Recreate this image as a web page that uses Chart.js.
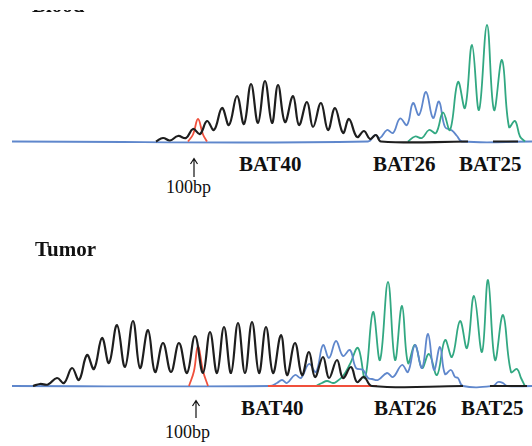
<!DOCTYPE html>
<html>
<head>
<meta charset="utf-8">
<script src="https://cdn.jsdelivr.net/npm/chart.js@4"></script>
<style>
  body { margin: 0; background: #fff; }
  #wrap { position: relative; width: 532px; height: 446px; overflow: hidden; background: #fff; }
  canvas { position: absolute; left: 0; }
  .lbl { position: absolute; font-family: "Liberation Serif", serif; font-weight: bold; font-size: 21px; line-height: 21px; color: #111; white-space: nowrap; }
  .bp { position: absolute; font-family: "Liberation Serif", serif; font-size: 18px; line-height: 18px; color: #111; white-space: nowrap; }
  #cut { left: 32px; top: -5px; clip-path: inset(15px 0 0 0); }
  svg { position: absolute; left: 0; top: 0; }
</style>
</head>
<body>
<div id="wrap">
  <canvas id="blood" width="532" height="150" style="top:0"></canvas>
  <canvas id="tumor" width="532" height="130" style="top:260px"></canvas>

  <div id="cut" class="lbl">Blood</div>
  <div class="lbl" style="left:239px;top:154px">BAT40</div>
  <div class="lbl" style="left:373px;top:154px">BAT26</div>
  <div class="lbl" style="left:459px;top:154px">BAT25</div>
  <div class="bp" style="left:166px;top:178px">100bp</div>

  <div class="lbl" style="left:35px;top:239px">Tumor</div>
  <div class="lbl" style="left:241px;top:398px">BAT40</div>
  <div class="lbl" style="left:374px;top:398px">BAT26</div>
  <div class="lbl" style="left:461px;top:398px">BAT25</div>
  <div class="bp" style="left:165px;top:423px">100bp</div>

  <svg width="532" height="446">
    <g stroke="#111" stroke-width="1.2" fill="none">
      <path d="M194 159 V177 M190.5 164 L194 158.5 L197.5 164"/>
      <path d="M196 401 V418 M192.5 406 L196 400.5 L199.5 406"/>
    </g>
  </svg>
</div>
<script>
// peak traces: [position, signal height]
// Blood panel
const bloodBlack = [
  [156, 0], [163, 3.5], [170, 1], [178, 5.5], [186, 3.5], [193, 12.5], [200, 7.5],
  [207, 20.5], [214, 11.5], [222, 33.5], [229, 16.5], [237, 45.5], [244, 17.5],
  [251, 57.5], [258, 18.5], [265, 60.5], [272, 18.5], [278, 56.5], [285, 19.5],
  [293, 45.5], [299, 16.5], [307, 39.5], [313, 14.5], [321, 38.5], [328, 11.5],
  [335, 33.5], [343, 8.5], [349, 22.5], [357, 4.5], [364, 10.5], [370, 2.5],
  [376, 6.5], [381, 0], [468, 0], [480, null], [493, 0], [518, 0]
];
const bloodRed = [[188, 0], [193, 7], [198, 22.5], [203, 7], [207, 0]];
const bloodBlue = [
  [12, 0], [368, 0], [375, 6.5], [380, 3.5], [387, 11.5], [393, 8.5], [400, 23],
  [407, 16.5], [413, 38.5], [419, 26.5], [426, 49.5], [433, 23.5], [439, 40],
  [445, 14.5], [452, 11], [457, 5.5], [462, 0], [532, 0]
];
const bloodGreen = [
  [408, 0], [415, 5], [422, 3.5], [429, 11.5], [436, 8.5], [443, 29], [450, 11.5],
  [458, 59.5], [465, 33.5], [472, 96.5], [479, 31.5], [487, 116.5], [494, 31.5],
  [502, 81.5], [509, 14.5], [515, 20.5], [520, 5], [525, 0]
];

// Tumor panel
const tumorBlack = [
  [33, 0], [40, 2], [48, 1.5], [57, 8], [64, 3], [72, 18], [79, 6], [87, 31],
  [94, 17], [102, 48], [109, 23], [117, 61], [125, 19], [133, 65], [140, 18],
  [148, 56], [155, 14], [163, 43], [171, 14], [179, 43], [187, 13], [195, 50],
  [203, 13], [210, 54], [217, 13], [224, 59], [231, 13], [238, 63], [245, 13],
  [252, 64], [259, 13], [266, 59], [273, 13], [281, 51], [287, 11], [295, 43],
  [302, 11], [309, 34], [315, 9], [323, 29], [329, 8], [337, 26], [343, 8],
  [351, 19], [357, 4], [364, 9], [372, 0], [463, 0], [475, null], [490, 0], [527, 0]
];
const tumorRed = [
  [189, 0], [194, 15], [198, 40], [203, 15], [208, 0], [230, null], [268, 0], [377, 0]
];
const tumorBlue = [
  [12, 0], [270, 0], [277, 3], [282, 6], [287, 3], [295, 11], [301, 8], [309, 22],
  [316, 14], [323, 41], [329, 28], [336, 45], [343, 30], [350, 36], [356, 18],
  [363, 16], [368, 8], [372, 7], [378, 6], [387, 13], [393, 9], [402, 21],
  [408, 14], [415, 41], [422, 18], [428, 52], [434, 16], [440, 39], [445, 12],
  [451, 16], [455, 9], [458, 8], [463, 0], [493, 0], [498, 4], [503, 3],
  [507, 0], [532, 0]
];
const tumorGreen = [
  [316, 0], [322, 3], [327, 5], [333, 3], [336, 4], [343, 10], [350, 22],
  [358, 38], [365, 8], [373, 74], [380, 26], [388, 104], [395, 26], [402, 80],
  [408, 23], [415, 41], [422, 18], [429, 32], [437, 11], [445, 46], [452, 29],
  [460, 65], [467, 38], [474, 90], [482, 34], [488, 106], [495, 26], [503, 71],
  [511, 14], [517, 17], [521, 8], [525, 0]
];

const BLACK = '#1e1e1e', RED = '#f0503c', BLUE = '#5f87cc', GREEN = '#32a882';

function trace(points, color, width) {
  return {
    data: points.map(p => ({ x: p[0], y: p[1] })),
    borderColor: color,
    borderWidth: width,
    pointRadius: 0,
    fill: false,
    tension: 0.4,
    spanGaps: false
  };
}

function panel(id, sets, yMin, yMax) {
  new Chart(document.getElementById(id), {
    type: 'line',
    data: { datasets: sets },
    options: {
      responsive: false,
      animation: false,
      events: [],
      layout: { padding: 0 },
      plugins: { legend: { display: false }, tooltip: { enabled: false } },
      scales: {
        x: { type: 'linear', min: 0, max: 532, display: false },
        y: { min: yMin, max: yMax, display: false }
      }
    }
  });
}

// first dataset is drawn on top
panel('blood', [
  trace(bloodBlack, BLACK, 2.2),
  trace(bloodRed, RED, 1.8),
  trace(bloodGreen, GREEN, 1.8),
  trace(bloodBlue, BLUE, 1.8)
], -8.5, 141.5);

panel('tumor', [
  trace(tumorBlack, BLACK, 2.2),
  trace(tumorRed, RED, 1.8),
  trace(tumorBlue, BLUE, 1.8),
  trace(tumorGreen, GREEN, 1.8)
], -4, 126);
</script>
</body>
</html>
